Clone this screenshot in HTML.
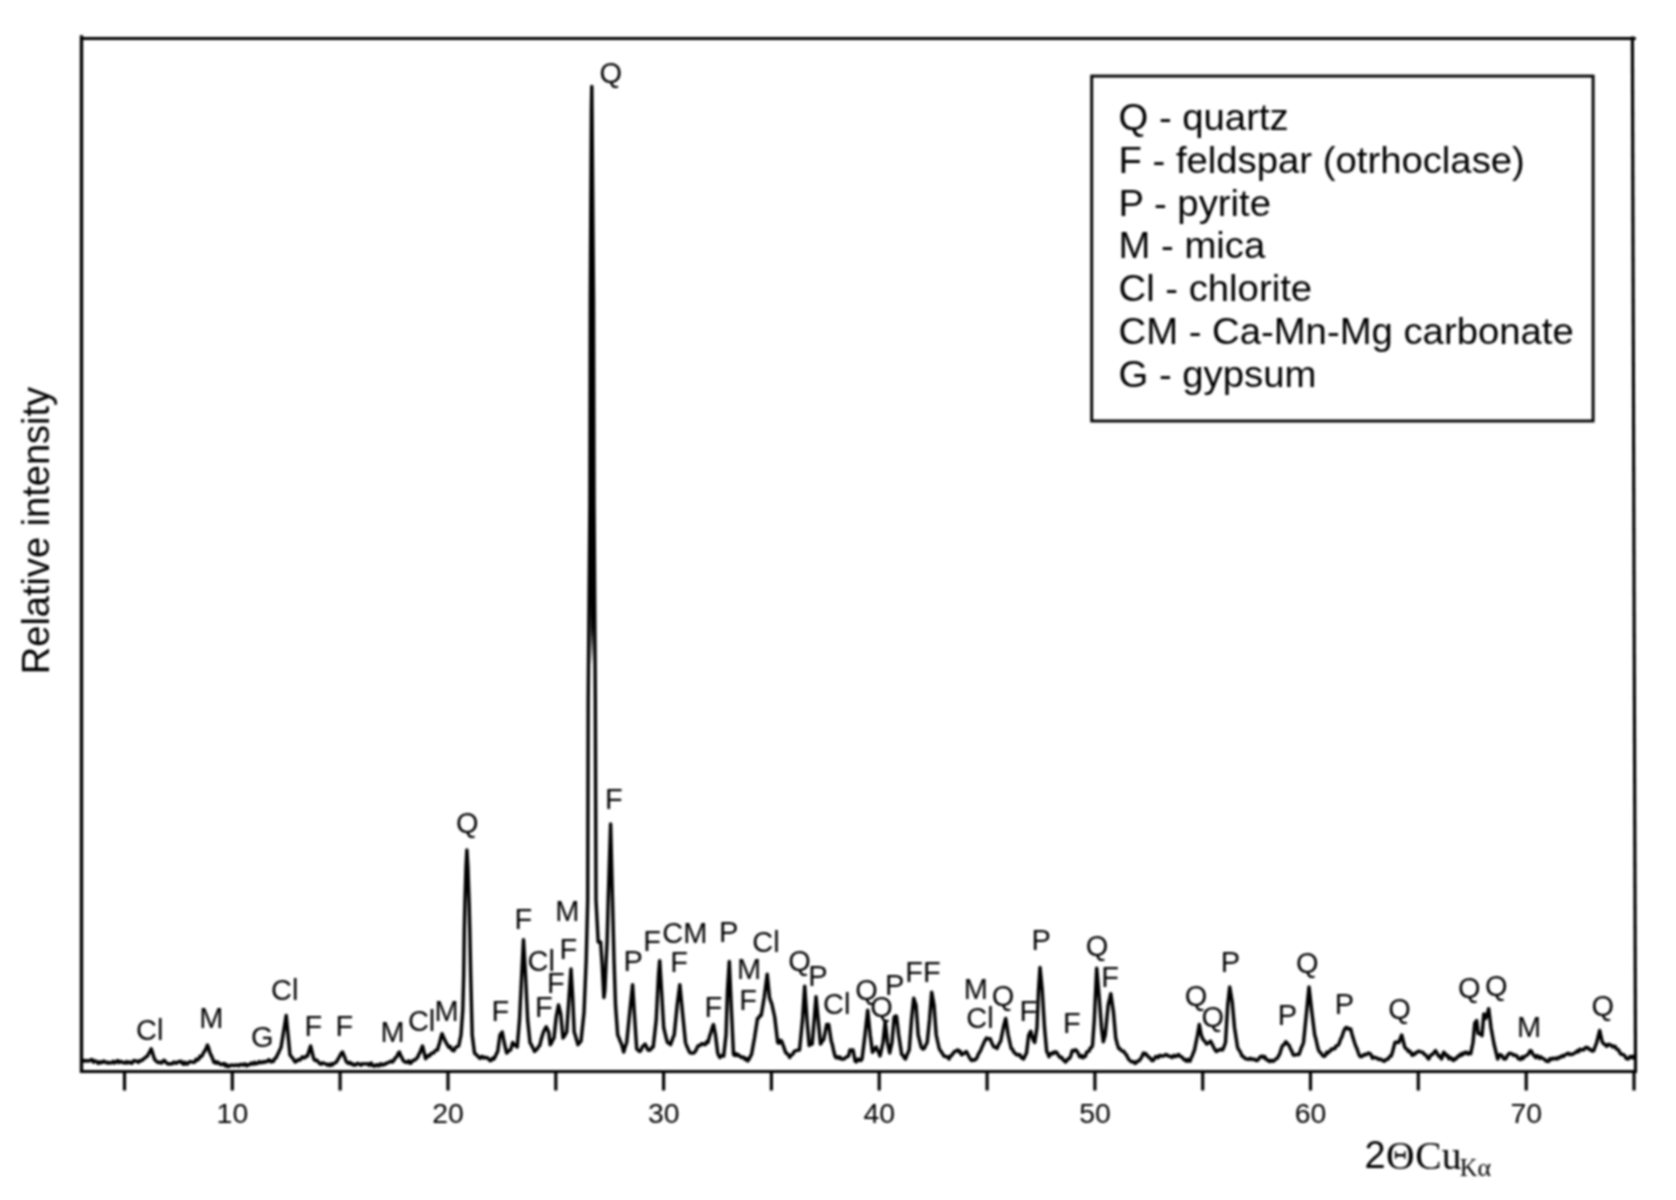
<!DOCTYPE html>
<html lang="en">
<head>
<meta charset="utf-8">
<title>XRD pattern</title>
<style>
html,body{margin:0;padding:0;background:#fff;}
body{width:1676px;height:1200px;overflow:hidden;}
svg{display:block;filter:blur(0.9px);}
text{font-family:"Liberation Sans",Arial,Helvetica,sans-serif;fill:#000;}
.pk text{font-size:29.0px;}
.tk text{font-size:28.4px;}
.lg text{font-size:38.3px;}
.ser{font-family:"Liberation Serif","Times New Roman",serif;}
</style>
</head>
<body>
<svg width="1676" height="1200" viewBox="0 0 1676 1200">
<rect width="1676" height="1200" fill="#fff"/>
<!-- frame -->
<g stroke="#000" stroke-width="3.2" fill="none" stroke-linecap="butt">
<line x1="81.5" y1="35.2" x2="81.5" y2="1073.1" stroke-width="3.4"/>
<line x1="80" y1="38.5" x2="1635.8" y2="38.5"/>
<line x1="1632.4" y1="36.6" x2="1635.5" y2="1073.1"/>
<line x1="80" y1="1071.5" x2="1637" y2="1071.5"/>
<line x1="124.5" y1="1071.5" x2="124.5" y2="1090.5"/>
<line x1="232.3" y1="1071.5" x2="232.3" y2="1090.5"/>
<line x1="340.1" y1="1071.5" x2="340.1" y2="1090.5"/>
<line x1="448.0" y1="1071.5" x2="448.0" y2="1090.5"/>
<line x1="555.8" y1="1071.5" x2="555.8" y2="1090.5"/>
<line x1="663.6" y1="1071.5" x2="663.6" y2="1090.5"/>
<line x1="771.4" y1="1071.5" x2="771.4" y2="1090.5"/>
<line x1="879.2" y1="1071.5" x2="879.2" y2="1090.5"/>
<line x1="987.1" y1="1071.5" x2="987.1" y2="1090.5"/>
<line x1="1094.9" y1="1071.5" x2="1094.9" y2="1090.5"/>
<line x1="1202.7" y1="1071.5" x2="1202.7" y2="1090.5"/>
<line x1="1310.5" y1="1071.5" x2="1310.5" y2="1090.5"/>
<line x1="1418.3" y1="1071.5" x2="1418.3" y2="1090.5"/>
<line x1="1526.2" y1="1071.5" x2="1526.2" y2="1090.5"/>
<line x1="1634.0" y1="1071.5" x2="1634.0" y2="1090.5"/>
</g>
<!-- diffractogram -->
<polyline fill="none" stroke="#000" stroke-width="3.45" stroke-linejoin="round" stroke-linecap="round" points="82.5,1061.2 83.8,1060.4 85,1061.1 86.2,1060.5 87.5,1061 88.8,1061 90,1060.5 91.2,1059.6 92.3,1059.7 93.5,1062.2 94.7,1060.9 95.8,1061 97,1062 98.1,1063.3 99.3,1061.9 100.4,1062.9 101.6,1061.9 102.7,1062.3 103.9,1061 105,1061.9 106.2,1062.4 107.3,1063.1 108.5,1062.3 109.7,1063 110.8,1062.9 112,1062.6 113.1,1061.3 114.3,1063 115.4,1062.4 116.6,1061.4 117.7,1060.5 118.9,1062.6 120,1061.5 121.1,1061.5 122.2,1062.2 123.3,1062.8 124.4,1062.4 125.6,1063 126.7,1061.7 127.8,1062.9 128.9,1062 130,1062.2 131.2,1063.3 132.3,1063 133.5,1060.8 134.7,1060.8 135.8,1060.9 137,1061.5 138.4,1062.4 139.8,1060.6 141.1,1060.7 142.5,1060 143.8,1058.5 145,1058 146.2,1056.7 147.5,1056 148.7,1053.4 150,1051.3 151.2,1048.8 152.5,1052.7 153.7,1056.9 155,1060 156.2,1061 157.5,1062.2 158.8,1062.5 160,1062 161.2,1063.1 162.5,1062 163.8,1060.3 165,1061 166.2,1062.6 167.5,1063.6 168.8,1064.1 170,1063.7 171.2,1063.6 172.5,1063.7 173.8,1062 175,1062.5 176.2,1063.3 177.5,1062.4 178.8,1061.5 180,1062 181.2,1061.2 182.4,1063.6 183.6,1064.3 184.8,1062.2 186,1063.7 187.2,1064.2 188.4,1062.8 189.6,1061.7 190.8,1061.8 192,1062 193.4,1062.2 194.8,1062 196.1,1059.3 197.5,1060 198.8,1059.1 200,1056.3 201.2,1056.8 202.5,1055 203.8,1052.2 205,1050.6 206.2,1048.3 207.5,1045 208.7,1048.3 209.8,1052.5 211,1055 212.5,1058.4 214,1062.5 215.1,1061.6 216.3,1063.3 217.4,1062.1 218.6,1062.8 219.7,1063.7 220.9,1064.5 222,1064.5 223.1,1063.7 224.3,1063.6 225.4,1066 226.6,1064.6 227.7,1066.5 228.9,1066.5 230,1065.6 231.1,1065.1 232.2,1065.2 233.3,1065.3 234.4,1065.5 235.6,1065.2 236.7,1065 237.8,1065.1 238.9,1065.8 240,1064.5 241.1,1064.5 242.2,1064.4 243.4,1065.2 244.5,1063.9 245.6,1064.1 246.8,1065.9 247.9,1064.7 249,1064.7 250.1,1064.6 251.2,1063 252.4,1063.8 253.5,1064.1 254.6,1062.3 255.8,1063.7 256.9,1063.6 258,1063 259.2,1061.6 260.4,1062.8 261.6,1062.2 262.8,1062.5 263.9,1061.4 265.1,1062.1 266.3,1061.9 267.5,1061 268.6,1059.8 269.8,1060.1 270.9,1061.9 272,1061.5 273.3,1061.6 274.7,1058.5 276,1058 277.2,1055.3 278.5,1052.9 279.8,1049.8 281,1047.5 286.2,1015.5 290,1055 291.2,1056.4 292.5,1058 293.8,1059.9 295,1062 296.2,1061.6 297.4,1060.1 298.6,1059.7 299.8,1060.1 301,1058.7 302.3,1056.9 303.6,1057.8 304.9,1057.7 306.2,1056 307.5,1056 309.1,1050.6 310.6,1046 313.7,1058.7 315,1060.5 316.2,1060 317.5,1060.9 318.7,1062.5 320,1063.7 321.2,1064.3 322.4,1062.7 323.6,1063.4 324.8,1063.5 326,1064 327.3,1065.1 328.6,1064.2 329.9,1065.6 331.2,1063.9 332.5,1065 333.8,1063.3 335,1062.9 336.2,1062.3 337.5,1060 338.8,1057.9 340,1055.6 341.2,1053.4 342.5,1052 343.7,1055 344.8,1057.5 346,1061 347.2,1062.6 348.5,1063.4 349.8,1062.4 351,1064 352.1,1063.5 353.2,1065 354.4,1064.6 355.5,1065.1 356.6,1063.9 357.8,1063.4 358.9,1063.9 360,1064.5 361.1,1065.2 362.3,1063.7 363.4,1063.9 364.6,1064 365.7,1063.9 366.9,1063.8 368,1064 369.1,1065.3 370.3,1063.4 371.4,1063.1 372.6,1065.8 373.7,1065.7 374.9,1066.2 376,1065 377.1,1064.7 378.3,1065.9 379.4,1065.7 380.6,1063.7 381.7,1064.9 382.9,1065.1 384,1064 385.2,1064.2 386.4,1063.5 387.6,1062.6 388.9,1062.4 390.1,1061.8 391.3,1061.1 392.5,1062 393.7,1060.7 394.8,1058.4 396,1057.5 397.1,1056.2 398.3,1053.1 399.4,1052 400.6,1055.3 401.8,1057.6 403,1060 404.1,1061.6 405.3,1061.9 406.4,1062.4 407.6,1061.9 408.7,1060.8 409.9,1063.2 411,1063 412.3,1061 413.6,1060.3 414.9,1060.1 416.2,1058.7 417.5,1057.5 418.8,1054.5 420,1052.5 421.2,1049.1 422.5,1046 425.6,1058.7 427,1057 428.3,1055.5 429.6,1055.9 431,1053.7 432.3,1052.9 433.6,1053 434.9,1051.1 436.2,1049.9 437.5,1050 438.6,1046 439.8,1042.4 440.9,1037.2 442,1033.7 443.4,1037 444.8,1040 446.1,1042.7 447.5,1045 448.9,1047.3 450.2,1046.5 451.6,1049.5 453,1050.6 454.1,1050.7 455.3,1047.5 456.4,1047.2 457.6,1046.3 458.7,1046 461,1035 462.8,1010 463.7,975 464.3,930 465,900 466,867 466.9,850 467.9,867 469.2,905 469.8,930 470.7,975 472.2,1035 474.5,1053 475.6,1054.2 476.8,1055 477.9,1056.3 479,1057.5 480.2,1058.4 481.5,1056.4 482.8,1056.7 484,1058 485.2,1057.4 486.5,1057.7 487.8,1058 489,1059.5 490.2,1060.7 491.5,1060.2 492.8,1058 494,1059 495.2,1056.5 496.5,1053.7 497.7,1051.5 500,1035 502.2,1032 504.5,1044 506.7,1053 508,1051.5 509.2,1050.6 510.5,1050 511.6,1046.5 512.7,1042.5 513.9,1044.2 515,1045.5 516.1,1045.9 517.2,1047 519.5,1020 521.7,975 523.5,939.7 525.5,975 527.7,1020 530,1042.5 531.1,1044.3 532.2,1046.7 533.4,1048.6 534.5,1051.5 535.8,1050.1 537.1,1049.1 538.4,1046.7 539.7,1045.5 541,1040.3 542.2,1036 543.5,1032 544.9,1029.1 546.2,1026.7 547.5,1029.5 548.7,1032 550.2,1044.7 551.5,1042.9 552.7,1040 554,1038 556.2,1017 558.5,1005 560.7,1014 563,1038 564.2,1036.5 565.5,1034.2 566.7,1032 569,997.5 571,969 572.7,997.5 574.2,1032 575.5,1036.1 576.7,1040.3 578,1044.7 579.5,1042.8 581,1041 584,1012.5 586.2,960 587.7,900 588.2,700 589.9,503 590.3,300 591.4,109 591.8,86.5 592,109 593.5,300 594,503 595.3,700 596,900 598.2,942 599.4,942.5 600.6,942 602.2,965 603.9,997.5 604.9,990 606.2,960 607.1,942 608.2,900 610.6,824 612.5,900 614,960 615.5,1005 617.7,1035 619,1037.9 620.2,1041.3 621.5,1044 622.6,1047.9 623.7,1052 625.2,1046.8 626.7,1042.5 629.7,1012.5 632.6,984.7 634.8,1020 636.7,1049 638.2,1050.3 639.7,1051.5 641,1050.2 642.4,1046.6 643.7,1045.7 645,1044 646.5,1046.9 648,1050 649.3,1050.3 650.6,1049.7 651.9,1047.4 653.2,1047 656.2,1020 658.5,975 659.7,960.7 661.5,990 663.7,1027.5 665,1033.1 666.2,1038 667.5,1042.5 669,1043 670.5,1044.7 671.7,1041.4 673,1037.6 674.2,1035 677.2,1005 679.8,984.7 682.5,1012.5 685.5,1042.5 686.7,1046 688,1048.8 689.2,1051.5 690.3,1052.9 691.5,1053 692.6,1053.1 693.7,1053 695,1051.8 696.4,1049.4 697.7,1046.3 699,1045.5 700.2,1045.5 701.5,1043.7 702.8,1043.8 704,1044.5 705.3,1044.6 706.7,1041.9 708,1042.5 709.5,1036.6 711,1032 712.2,1027.6 713.5,1024.5 715.5,1035 717.7,1053 718.9,1055.9 720,1057.5 721.2,1056.1 722.5,1055.2 723.7,1056 726,1035 727.5,990 729.3,961.5 731.2,1005 733.5,1054.5 734.6,1055.4 735.8,1053.5 736.9,1055.4 738,1054.5 739.2,1055.6 740.4,1056.6 741.6,1057.5 742.8,1057.1 744,1057.5 745.2,1059.5 746.5,1058.6 747.7,1061 749,1059.3 750.2,1056.7 751.5,1054.5 754.5,1038 757.5,1018.5 758.7,1018.1 760,1015.4 761.2,1015.5 764.2,997.5 767.2,974.2 769.5,997.5 770.6,1000.9 771.7,1003.5 774.7,1017 777.7,1042.5 779,1043.2 780.2,1040.3 781.5,1041 782.6,1043.7 783.8,1047.1 784.9,1050.5 786,1053 787.2,1053.8 788.5,1055.1 789.7,1057.5 790.8,1055.3 792,1054.8 793.1,1053.7 794.2,1051.5 795.5,1050.8 796.9,1050.4 798.2,1050.1 799.5,1050 802.5,1020 804.7,986.2 807,1020 809.2,1045.5 810.7,1044.3 812.2,1044 814.2,1020 816,996.7 818.2,1020 820.5,1044 822.1,1041.5 823.7,1039.5 826.7,1024.5 828.7,1024.5 831.2,1041 832.5,1045.3 833.7,1051 835,1056 836.2,1057.8 837.5,1056.8 838.8,1058.2 840,1057.1 841.2,1059 842.5,1059 843.7,1059.1 844.9,1058.3 846.1,1057.2 847.3,1056.6 848.5,1056 850,1050 851.5,1050.4 853,1050 855.2,1061.2 856.3,1061.9 857.5,1059.5 858.6,1059 859.7,1060.4 860.9,1060.5 862,1059 865,1035 867.7,1010.2 870.2,1035 872.5,1052.2 873.7,1050.5 875,1048.6 876.2,1047 877.5,1050.4 878.7,1052.5 880,1056 883,1042.5 885.2,1021.5 887.5,1042.5 889.7,1053 892,1042.5 894.2,1017 895.4,1016 896.5,1016.2 898.7,1035 901.7,1054.5 903,1055.2 904.2,1057.7 905.5,1059 906.7,1055.7 908,1052.6 909.2,1050 911.5,1020 913.7,998.2 914.9,1001.9 916,1005 918.2,1035 921.2,1047 922.7,1049 924.2,1048.5 925.7,1045.2 927.2,1042.5 929.5,1020 931.7,992.2 934,1005 936.2,1035 939.2,1048.5 940.5,1050.8 941.7,1052.4 943,1054.5 944.2,1056.4 945.4,1056.5 946.6,1056.6 947.8,1057.3 949,1059 950.1,1056.2 951.2,1055.9 952.4,1054.2 953.5,1053 954.6,1051.4 955.8,1051.1 956.9,1050.3 958,1050 959.1,1051.9 960.2,1051.3 961.4,1054.7 962.5,1054.5 963.7,1053.4 965,1052.8 966.2,1051.5 967.5,1053.7 968.9,1056.5 970.2,1058.8 971.5,1060.5 972.6,1060.3 973.8,1059.7 974.9,1060 976,1059 977.2,1057.2 978.4,1054 979.6,1052.2 980.8,1050.1 982,1047 983.1,1044.7 984.2,1042.1 985.4,1039.8 986.5,1038 987.7,1038.8 989,1038.9 990.2,1038.7 991.5,1042.2 992.7,1044.8 994,1047 995.5,1047.1 997,1048.5 998.2,1045.5 999.5,1043.1 1000.7,1041 1003.7,1026 1005.7,1018.5 1008.2,1035 1011.2,1048.5 1012.5,1049.2 1013.7,1052.1 1015,1053 1016.3,1054.5 1017.7,1055.1 1019,1054.5 1020.1,1055 1021.2,1057.7 1022.4,1057.4 1023.5,1059 1025,1055.9 1026.5,1053 1028.7,1035 1030.7,1031.2 1032.5,1038 1033.6,1040.6 1034.7,1042.5 1037,1027.5 1038.5,990 1040,967.5 1042.2,990 1044.5,1027.5 1046.7,1051.5 1047.8,1053.4 1049,1056.7 1050.5,1053.8 1052,1053 1053.1,1053.7 1054.2,1052 1055.4,1052 1056.5,1052.2 1057.7,1054.2 1059,1056.2 1060.2,1057.5 1061.5,1057.3 1062.8,1059.3 1064.2,1060.7 1065.5,1062 1066.6,1060.8 1067.8,1059 1068.9,1058.9 1070,1057.5 1071.1,1054.8 1072.2,1050.7 1073.3,1050.4 1074.5,1050.8 1075.6,1049.7 1076.7,1050.7 1078.2,1053.3 1079.7,1056.7 1080.8,1057.1 1082,1055.7 1083.1,1057.7 1084.2,1056.7 1085.5,1056.1 1086.7,1052.1 1088,1051.5 1089.1,1051.2 1090.2,1048.2 1091.4,1047.7 1092.5,1045.5 1094.3,1020 1096.7,968.2 1099.2,997.5 1101.5,1027.5 1103.3,1041.7 1105.2,1035 1108.2,1005 1110.8,993.7 1113.5,1012.5 1115.7,1038 1117.2,1043.7 1118.7,1048.5 1120,1048.7 1121.3,1050.5 1122.7,1051.2 1124,1051.5 1125.2,1053.8 1126.4,1054.7 1127.6,1057.3 1128.8,1059.4 1130,1060.5 1131.3,1061.7 1132.6,1062.1 1133.9,1061.7 1135.2,1063.5 1136.5,1062.4 1137.8,1060.9 1139.2,1060.7 1140.5,1059 1142,1056.3 1143.5,1053 1144.6,1053.9 1145.8,1053.6 1146.9,1055.6 1148,1056 1149.2,1057.9 1150.5,1058.1 1151.7,1060.5 1153,1060.6 1154.3,1059 1155.7,1056.6 1157,1056.7 1158.2,1057.7 1159.5,1055.4 1160.8,1055.7 1162,1056 1163.3,1056.1 1164.7,1055.3 1166,1054.5 1167.2,1055.2 1168.4,1056.1 1169.6,1056.2 1170.8,1056.4 1172,1057.5 1173.1,1056.1 1174.2,1055.3 1175.3,1056.6 1176.5,1056.2 1177.6,1055.1 1178.7,1054.5 1180,1056.4 1181.3,1056.7 1182.7,1057.8 1184,1059.7 1185.2,1059.7 1186.4,1061.3 1187.6,1059.4 1188.8,1060.9 1190,1061.2 1191.1,1058 1192.2,1056 1193.4,1052.6 1194.5,1050 1197.5,1035 1199.3,1024.5 1201.2,1035 1203,1039.5 1204.2,1040.5 1205.5,1042.2 1206.7,1044 1208,1043.1 1209.2,1042.7 1210.5,1041 1212,1043.8 1213.5,1047 1215,1049.8 1216.5,1051.5 1217.7,1050.2 1218.9,1050.3 1220.1,1049.5 1221.3,1049.3 1222.5,1050 1224,1046.7 1225.5,1042.5 1227.7,1005 1229.7,987 1232.2,1002 1234.5,1027.5 1237.5,1047 1238.6,1049.6 1239.8,1051 1240.9,1053.3 1242,1056 1243.2,1056.4 1244.4,1057.9 1245.6,1058.7 1246.8,1059.1 1248,1059 1249.2,1059.4 1250.5,1058.3 1251.8,1059.1 1253,1059.5 1254.3,1059 1255.7,1060.2 1257,1060.5 1258.3,1059.6 1259.6,1057.4 1260.9,1056.5 1262.2,1056 1263.5,1057.7 1264.8,1056.6 1266.2,1059.6 1267.5,1059.7 1268.7,1061.1 1269.9,1061.5 1271.1,1060.3 1272.3,1061 1273.5,1061.2 1274.7,1060.1 1275.9,1058.9 1277.1,1058.5 1278.3,1056.3 1279.5,1054.5 1281,1049.7 1282.5,1045.5 1284.2,1044.6 1285.8,1041.7 1286.9,1042.9 1288.1,1044.5 1289.2,1045.5 1290.5,1048.9 1291.7,1050.7 1293,1054.5 1294.2,1055.2 1295.4,1054.9 1296.6,1054.5 1297.8,1054.6 1299,1054.5 1300.1,1051.4 1301.2,1048 1302.4,1045.5 1303.5,1042.5 1306.5,1012.5 1309,987 1311.7,1011 1314.7,1035 1316,1039.3 1317.2,1045 1318.5,1050 1319.6,1051.9 1320.8,1052.8 1321.9,1054.7 1323,1056 1324.2,1056.3 1325.4,1055.3 1326.6,1052.3 1327.8,1053.2 1329,1051.5 1330.2,1051.2 1331.4,1049.1 1332.6,1049.3 1333.8,1048.4 1335,1048.5 1336.1,1045.9 1337.2,1045.6 1338.4,1045.2 1339.5,1042.5 1340.6,1039.2 1341.8,1037.1 1342.9,1033.8 1344,1030.5 1345.5,1028 1347,1027.5 1348.2,1029 1349.5,1028.8 1350.7,1029 1352,1034.2 1353.2,1038.3 1354.5,1042.5 1355.8,1046.3 1357.1,1049 1358.4,1053.1 1359.7,1056 1361,1056.8 1362.3,1056.2 1363.7,1054.7 1365,1054.5 1366.2,1054.7 1367.5,1053.5 1368.7,1053 1370,1053.7 1371.2,1055.2 1372.5,1058.2 1373.8,1057.2 1375,1057.7 1376.2,1057.7 1377.5,1058.7 1378.8,1059.4 1380,1059 1381.1,1059.7 1382.2,1059.9 1383.4,1061.1 1384.5,1061.2 1385.6,1059.8 1386.7,1059.4 1387.8,1059.3 1389,1057.5 1390.1,1056 1391.2,1056 1392.5,1052.1 1393.7,1047.4 1395,1042.5 1396.2,1042.1 1397.5,1042.2 1398.7,1042.5 1400.2,1038.8 1401.7,1035 1404.7,1047 1406,1048.8 1407.2,1049.3 1408.5,1051.5 1409.6,1051.1 1410.8,1052.6 1411.9,1055 1413,1055.2 1414.1,1053.6 1415.2,1053.9 1416.3,1052.5 1417.5,1051.9 1418.6,1051.2 1419.7,1051.5 1420.8,1052 1422,1052.1 1423.1,1052.5 1424.2,1054.5 1425.3,1054.6 1426.5,1055.9 1427.6,1057.8 1428.7,1059 1430,1056.3 1431.2,1054.7 1432.5,1054.5 1434,1052.5 1435.5,1050.7 1436.6,1052.5 1437.7,1054.5 1439,1056.5 1440.2,1056.3 1441.5,1059 1442.6,1055.4 1443.7,1052.2 1445.2,1053.8 1446.7,1056 1447.8,1055.5 1449,1058.8 1450.1,1057.5 1451.2,1057.9 1452.4,1059.7 1453.5,1060.5 1454.7,1058.7 1455.9,1059 1457.1,1057.4 1458.3,1055.9 1459.5,1056 1460.7,1054 1461.9,1055.1 1463.1,1053.1 1464.3,1053.7 1465.5,1052.2 1466.8,1052.5 1468.1,1054.1 1469.4,1052.8 1470.7,1053.7 1473,1042.5 1474.8,1023 1476.7,1020.7 1478.2,1033.5 1479.5,1033.6 1480.7,1034.3 1482,1035.7 1483.8,1014 1485.7,1018.5 1487.2,1014.1 1488.7,1008.7 1491,1027.5 1494,1044 1497.7,1059 1498.8,1057 1500,1054.5 1501.1,1055.2 1502.2,1055.7 1503.4,1058.4 1504.5,1059 1505.7,1058.8 1507,1056.2 1508.2,1054.5 1509.5,1053.3 1510.8,1053.6 1512.2,1053.9 1513.5,1055.2 1514.7,1055.1 1515.9,1055.5 1517.1,1056.3 1518.3,1058.7 1519.5,1059 1520.7,1059.5 1521.9,1057 1523.1,1058.5 1524.3,1056.5 1525.5,1056 1526.6,1055.5 1527.8,1054.5 1528.9,1053.2 1530,1050.7 1531.1,1050.8 1532.2,1052.8 1533.4,1055 1534.5,1056 1535.8,1057.6 1537,1055.6 1538.2,1056.5 1539.5,1058.4 1540.8,1056.8 1542,1058.2 1543.3,1058.7 1544.6,1059.3 1545.9,1060.9 1547.2,1061.2 1548.5,1061.6 1549.8,1058.8 1551.2,1059.6 1552.5,1058.2 1553.8,1058.7 1555,1058.9 1556.2,1058 1557.5,1058.9 1558.8,1057.2 1560,1057.5 1561.2,1056.7 1562.4,1055.6 1563.6,1056.5 1564.8,1055 1566,1054.5 1567.2,1053.7 1568.5,1053.3 1569.8,1054.7 1571,1054.3 1572.2,1054.4 1573.5,1053.7 1574.8,1052.8 1576,1052.4 1577.2,1050.9 1578.5,1051.8 1579.8,1049.3 1581,1050 1582.1,1049.5 1583.2,1049.9 1584.3,1049.3 1585.5,1047.4 1586.6,1047.4 1587.7,1047.7 1588.9,1049.2 1590.1,1049.3 1591.3,1050.5 1592.5,1051.1 1593.7,1050.7 1595.2,1046.5 1596.7,1042.5 1599.7,1030.5 1602,1041 1603.1,1043.4 1604.2,1044.2 1605.4,1044.5 1606.5,1046.2 1607.7,1045.4 1608.8,1044.2 1610,1045 1611.3,1045.1 1612.7,1047 1614,1046.2 1615.2,1046.5 1616.4,1049.1 1617.6,1049.2 1618.8,1050.5 1620,1053 1621.2,1054.4 1622.5,1054.3 1623.8,1054.8 1625,1056.1 1626.2,1058.4 1627.5,1059 1628.8,1058.6 1630.1,1056.5 1631.4,1056.5 1632.7,1057.9 1634,1056"/>
<polygon fill="#000" points="591.8,88 590.3,300 589.9,503 589.3,575 591.9,665 594.6,575 594,503 593.5,300"/>
<!-- peak labels -->
<g class="pk">
<text transform="translate(136.1,1040.0) scale(1,1.03)">Cl</text>
<text transform="translate(199.3,1028.0) scale(1,1.03)">M</text>
<text transform="translate(251.1,1047.0) scale(1,1.03)">G</text>
<text transform="translate(271.1,1000.0) scale(1,1.03)">Cl</text>
<text transform="translate(304.6,1036.0) scale(1,1.03)">F</text>
<text transform="translate(335.6,1036.0) scale(1,1.03)">F</text>
<text transform="translate(380.6,1042.0) scale(1,1.03)">M</text>
<text transform="translate(407.9,1031.0) scale(1,1.03)">Cl</text>
<text transform="translate(434.6,1021.0) scale(1,1.03)">M</text>
<text transform="translate(456.1,832.5) scale(1,1.03)">Q</text>
<text transform="translate(491.6,1020.7) scale(1,1.03)">F</text>
<text transform="translate(514.6,929.0) scale(1,1.03)">F</text>
<text transform="translate(527.5,970.5) scale(1,1.03)">Cl</text>
<text transform="translate(535.1,1017.0) scale(1,1.03)">F</text>
<text transform="translate(547.1,993.0) scale(1,1.03)">F</text>
<text transform="translate(559.6,958.5) scale(1,1.03)">F</text>
<text transform="translate(555.3,921.0) scale(1,1.03)">M</text>
<text transform="translate(599.4,83.0) scale(1,1.03)">Q</text>
<text transform="translate(605.1,808.7) scale(1,1.03)">F</text>
<text transform="translate(623.6,970.5) scale(1,1.03)">P</text>
<text transform="translate(643.3,951.0) scale(1,1.03)">F</text>
<text transform="translate(662.2,942.7) scale(1,1.03)">CM</text>
<text transform="translate(670.3,972.0) scale(1,1.03)">F</text>
<text transform="translate(719.1,942.0) scale(1,1.03)">P</text>
<text transform="translate(704.6,1017.0) scale(1,1.03)">F</text>
<text transform="translate(737.1,978.7) scale(1,1.03)">M</text>
<text transform="translate(739.3,1010.0) scale(1,1.03)">F</text>
<text transform="translate(752.2,951.7) scale(1,1.03)">Cl</text>
<text transform="translate(788.3,970.5) scale(1,1.03)">Q</text>
<text transform="translate(808.3,986.0) scale(1,1.03)">P</text>
<text transform="translate(823.0,1014.0) scale(1,1.03)">Cl</text>
<text transform="translate(855.3,999.7) scale(1,1.03)">Q</text>
<text transform="translate(870.3,1017.0) scale(1,1.03)">Q</text>
<text transform="translate(885.1,994.5) scale(1,1.03)">P</text>
<text transform="translate(905.3,981.7) scale(1,1.03)">FF</text>
<text transform="translate(963.8,999.0) scale(1,1.03)">M</text>
<text transform="translate(966.2,1027.5) scale(1,1.03)">Cl</text>
<text transform="translate(991.8,1005.7) scale(1,1.03)">Q</text>
<text transform="translate(1019.6,1020.7) scale(1,1.03)">F</text>
<text transform="translate(1031.6,950.2) scale(1,1.03)">P</text>
<text transform="translate(1063.1,1032.7) scale(1,1.03)">F</text>
<text transform="translate(1085.8,955.5) scale(1,1.03)">Q</text>
<text transform="translate(1101.3,987.0) scale(1,1.03)">F</text>
<text transform="translate(1184.8,1005.7) scale(1,1.03)">Q</text>
<text transform="translate(1201.6,1026.7) scale(1,1.03)">Q</text>
<text transform="translate(1220.8,972.0) scale(1,1.03)">P</text>
<text transform="translate(1277.8,1024.5) scale(1,1.03)">P</text>
<text transform="translate(1296.1,972.7) scale(1,1.03)">Q</text>
<text transform="translate(1334.8,1014.0) scale(1,1.03)">P</text>
<text transform="translate(1388.3,1019.2) scale(1,1.03)">Q</text>
<text transform="translate(1458.1,997.5) scale(1,1.03)">Q</text>
<text transform="translate(1485.1,996.0) scale(1,1.03)">Q</text>
<text transform="translate(1517.1,1036.5) scale(1,1.03)">M</text>
<text transform="translate(1591.6,1016.2) scale(1,1.03)">Q</text>
</g>
<g class="tk">
<text x="232.4" y="1123" text-anchor="middle">10</text>
<text x="448.1" y="1123" text-anchor="middle">20</text>
<text x="663.7" y="1123" text-anchor="middle">30</text>
<text x="879.3" y="1123" text-anchor="middle">40</text>
<text x="1095.0" y="1123" text-anchor="middle">50</text>
<text x="1310.6" y="1123" text-anchor="middle">60</text>
<text x="1526.3" y="1123" text-anchor="middle">70</text>
</g>
<!-- legend -->
<rect x="1091.7" y="76.1" width="501.4" height="344.9" fill="#fff" stroke="#000" stroke-width="2.9"/>
<g class="lg">
<text transform="translate(1118.5,130.0) scale(1,0.963)">Q - quartz</text>
<text transform="translate(1118.5,172.8) scale(1,0.963)">F - feldspar (otrhoclase)</text>
<text transform="translate(1118.5,215.6) scale(1,0.963)">P - pyrite</text>
<text transform="translate(1118.5,258.4) scale(1,0.963)">M - mica</text>
<text transform="translate(1118.5,301.2) scale(1,0.963)">Cl - chlorite</text>
<text transform="translate(1118.5,344.0) scale(1,0.963)">CM - Ca-Mn-Mg carbonate</text>
<text transform="translate(1118.5,386.8) scale(1,0.963)">G - gypsum</text>
</g>
<!-- axis titles -->
<text transform="translate(48.7,674.2) rotate(-90)" font-size="38">Relative intensity</text>
<text x="1364.6" y="1168.3" font-size="38">2</text>
<text class="ser" x="1386" y="1168.9" font-size="39.5">Θ<tspan dx="0.8">Cu</tspan><tspan font-size="24.5" dy="7.3" dx="-1.6">K</tspan><tspan font-size="26">α</tspan></text>
</svg>
</body>
</html>
